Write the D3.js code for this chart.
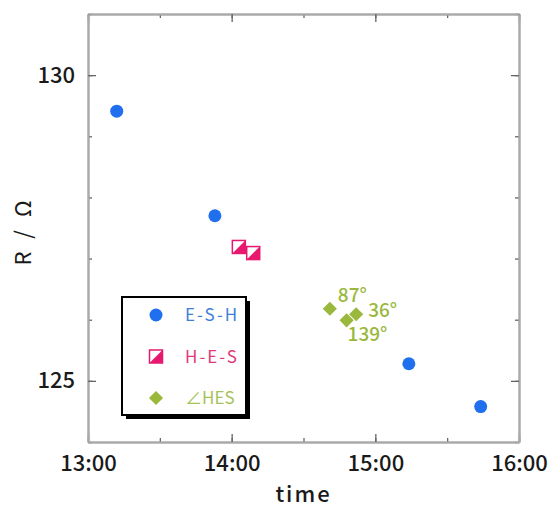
<!DOCTYPE html>
<html>
<head>
<meta charset="utf-8">
<script src="https://cdn.jsdelivr.net/npm/d3@7"></script>
<style>
  body { margin: 0; background: #fff; }
  text { font-family: "Noto Sans CJK JP", "Noto Sans", sans-serif; }
</style>
</head>
<body>
<div id="chart"></div>
<script>
// data
const eshTimes = ["13:12", "13:53", "15:14", "15:44"];
const eshValues = [129.41, 127.70, 125.28, 124.58];
const hesTimes = ["14:03", "14:09"];
const hesValues = [127.19, 127.09];
const angleTimes = ["14:41", "14:48", "14:52"];
const angleValues = [126.18, 125.99, 126.09];
const angleLabels = ["87°", "139°", "36°"];
const xTickLabels = ["13:00", "14:00", "15:00", "16:00"];
const yTickValues = [125, 130];
const legendLabels = ["E-S-H", "H-E-S", "∠HES"];

const parseTime = d3.timeParse("%H:%M");
const fmt = d3.timeFormat("%H:%M");

const blue = "#1f6fee";
const pink = "#e8186e";
const green = "#9ab83c";

const width = 550, height = 507;
const box = { left: 88, right: 519, top: 14, bottom: 442 };

const svg = d3.select("#chart").append("svg")
    .attr("width", width)
    .attr("height", height);

const x = d3.scaleTime()
    .domain([parseTime("13:00"), parseTime("16:00")])
    .range([box.left, box.right]);

const y = d3.scaleLinear()
    .domain([124, 131])
    .range([box.bottom, box.top]);

// ticks
const xMajor = xTickLabels.map(parseTime);
const xMinor = d3.timeMinute.every(30).range(parseTime("13:00"), parseTime("16:01"));
const yMinor = d3.range(124, 132);

function styleAxis(g) {
    g.select(".domain").attr("stroke", "#aaa").attr("stroke-width", 2);
    g.selectAll(".tick line").attr("stroke", "#666").attr("stroke-width", 1.3);
    g.selectAll(".tick text")
        .attr("fill", "#1a1a1a")
        .style("font-size", "22px")
        .style("font-weight", "500");
}

// minor ticks (all sides)
svg.append("g").attr("transform", `translate(0,${box.bottom})`)
    .call(d3.axisBottom(x).tickValues(xMinor).tickSizeInner(-4).tickSizeOuter(0).tickFormat(""))
    .call(styleAxis);
svg.append("g").attr("transform", `translate(0,${box.top})`)
    .call(d3.axisTop(x).tickValues(xMinor).tickSizeInner(-4).tickSizeOuter(0).tickFormat(""))
    .call(styleAxis);
svg.append("g").attr("transform", `translate(${box.left},0)`)
    .call(d3.axisLeft(y).tickValues(yMinor).tickSizeInner(-4).tickSizeOuter(0).tickFormat(""))
    .call(styleAxis);
svg.append("g").attr("transform", `translate(${box.right},0)`)
    .call(d3.axisRight(y).tickValues(yMinor).tickSizeInner(-4).tickSizeOuter(0).tickFormat(""))
    .call(styleAxis);

// major ticks
svg.append("g").attr("transform", `translate(0,${box.bottom})`)
    .call(d3.axisBottom(x).tickValues(xMajor).tickSizeInner(-8).tickSizeOuter(0).tickPadding(13).tickFormat(fmt))
    .call(styleAxis);
svg.append("g").attr("transform", `translate(0,${box.top})`)
    .call(d3.axisTop(x).tickValues(xMajor).tickSizeInner(-8).tickSizeOuter(0).tickFormat(""))
    .call(styleAxis);
svg.append("g").attr("transform", `translate(${box.left},0)`)
    .call(d3.axisLeft(y).tickValues(yTickValues).tickSizeInner(-8).tickSizeOuter(0).tickPadding(13).tickFormat(d3.format("d")))
    .call(styleAxis);
svg.append("g").attr("transform", `translate(${box.right},0)`)
    .call(d3.axisRight(y).tickValues(yTickValues).tickSizeInner(-8).tickSizeOuter(0).tickFormat(""))
    .call(styleAxis);

// axis titles
svg.append("text")
    .attr("x", (box.left + box.right) / 2)
    .attr("y", 502)
    .attr("text-anchor", "middle")
    .attr("fill", "#1a1a1a")
    .style("font-size", "22px")
    .style("font-weight", "500")
    .style("letter-spacing", "2px")
    .text("time");

svg.append("text")
    .attr("transform", "translate(31,231) rotate(-90)")
    .attr("text-anchor", "middle")
    .attr("fill", "#1a1a1a")
    .style("font-size", "22px")
    .style("letter-spacing", "4px")
    .text("R / Ω");

// markers
function circleMark(g, c) {
    g.append("circle").attr("r", 6.5).attr("fill", c);
}
function squareMark(g, c) {
    g.append("rect").attr("x", -6.5).attr("y", -6.5).attr("width", 13).attr("height", 13)
        .attr("fill", "#fff").attr("stroke", c).attr("stroke-width", 1.5);
    g.append("path").attr("d", "M-6.5,6.5L6.5,-6.5L6.5,6.5Z").attr("fill", c);
}
function diamondMark(g, c) {
    g.append("path").attr("d", d3.symbol(d3.symbolSquare, 100)()).attr("transform", "rotate(45)").attr("fill", c);
}

const esh = eshTimes.map((t, i) => ({ t: parseTime(t), v: eshValues[i] }));
const hes = hesTimes.map((t, i) => ({ t: parseTime(t), v: hesValues[i] }));
const ang = angleTimes.map((t, i) => ({ t: parseTime(t), v: angleValues[i], label: angleLabels[i] }));

svg.selectAll(".esh").data(esh).enter().append("g")
    .attr("transform", d => `translate(${x(d.t)},${y(d.v)})`)
    .each(function () { circleMark(d3.select(this), blue); });

svg.selectAll(".hes").data(hes).enter().append("g")
    .attr("transform", d => `translate(${x(d.t)},${y(d.v)})`)
    .each(function () { squareMark(d3.select(this), pink); });

svg.selectAll(".ang").data(ang).enter().append("g")
    .attr("transform", d => `translate(${x(d.t)},${y(d.v)})`)
    .each(function () { diamondMark(d3.select(this), green); });

// angle annotations
const labelOffsets = [[8, -7], [1, 21], [12, 3]];
svg.selectAll(".ang-label").data(ang).enter().append("text")
    .attr("x", (d, i) => x(d.t) + labelOffsets[i][0])
    .attr("y", (d, i) => y(d.v) + labelOffsets[i][1])
    .attr("fill", green)
    .style("font-size", "19px")
    .style("font-weight", "500")
    .text(d => d.label);

// legend
const lg = svg.append("g");
lg.append("rect").attr("x", 126).attr("y", 301).attr("width", 124).attr("height", 118).attr("fill", "#000");
lg.append("rect").attr("x", 122).attr("y", 297).attr("width", 124).attr("height", 118)
    .attr("fill", "#fff").attr("stroke", "#000").attr("stroke-width", 2);

const legendY = d3.scalePoint().domain(legendLabels).range([315, 398]);
const legendColors = [blue, pink, green];
const legendMarks = [circleMark, squareMark, diamondMark];
const legendText = ["#3f7fd6", "#e03a7c", "#a6c25a"];

legendLabels.forEach((l, i) => {
    const g = lg.append("g").attr("transform", `translate(156,${legendY(l)})`);
    legendMarks[i](g, legendColors[i]);
    lg.append("text")
        .attr("x", 185)
        .attr("y", legendY(l))
        .attr("dy", "0.36em")
        .attr("fill", legendText[i])
        .style("font-size", "17px")
        .style("letter-spacing", i === 2 ? "0px" : "2px")
        .text(l);
});
</script>
</body>
</html>
